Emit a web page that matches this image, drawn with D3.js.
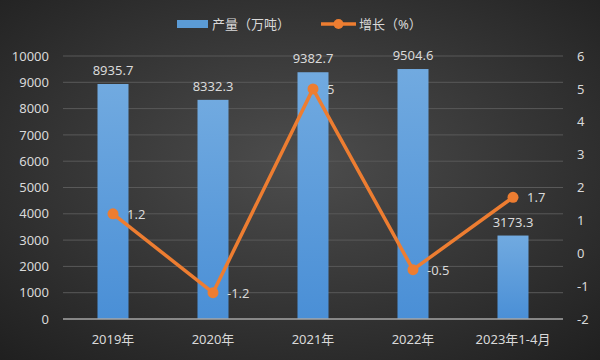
<!DOCTYPE html>
<html><head><meta charset="utf-8">
<script src="https://cdn.jsdelivr.net/npm/d3@7"></script>
<style>html,body{margin:0;padding:0;background:#2a2a2a;}svg{display:block;}</style>
</head><body>
<svg id="c" width="600" height="360"></svg>
<script>
const categories = ["2019年","2020年","2021年","2022年","2023年1-4月"];
const production = [8935.7, 8332.3, 9382.7, 9504.6, 3173.3];
const growth = [1.2, -1.2, 5, -0.5, 1.7];
const leftTicks = [0,1000,2000,3000,4000,5000,6000,7000,8000,9000,10000];
const rightTicks = [-2,-1,0,1,2,3,4,5,6];

const W = 600, H = 360;
const m = {left:63, right:37, top:56, bottom:41};
const svg = d3.select("#c");
const defs = svg.append("defs");
const bg = defs.append("radialGradient").attr("id","bg").attr("cx","50%").attr("cy","45%").attr("r","75%");
bg.append("stop").attr("offset","0%").attr("stop-color","#4d4d4d");
bg.append("stop").attr("offset","100%").attr("stop-color","#1f1f1f");
const bar = defs.append("linearGradient").attr("id","bar").attr("x1","0").attr("y1","0").attr("x2","0").attr("y2","1");
bar.append("stop").attr("offset","0%").attr("stop-color","#71aae0");
bar.append("stop").attr("offset","100%").attr("stop-color","#4a8fd6");

svg.append("rect").attr("width",W).attr("height",H).attr("fill","url(#bg)");

const x = d3.scaleBand().domain(categories).range([m.left, W-m.right]);
const yL = d3.scaleLinear().domain([0,10000]).range([H-m.bottom, m.top]);
const yR = d3.scaleLinear().domain([-2,6]).range([H-m.bottom, m.top]);
const font = "'Noto Sans','Noto Sans CJK SC',sans-serif";
const txt = "#d9d9d9";
const fmt = d => String(d);

// gridlines
svg.append("g").selectAll("line").data(leftTicks.slice(1)).join("line")
  .attr("x1",m.left).attr("x2",W-m.right)
  .attr("y1",d=>yL(d)).attr("y2",d=>yL(d))
  .attr("stroke","#595959").attr("stroke-width",1);

// left axis
const gL = svg.append("g").attr("transform",`translate(${m.left},0)`)
  .call(d3.axisLeft(yL).tickValues(leftTicks).tickFormat(fmt).tickSize(0).tickPadding(14));
gL.select(".domain").remove();
gL.selectAll("text").attr("fill",txt).attr("font-size",13).attr("font-family",font);

// right axis
const gR = svg.append("g").attr("transform",`translate(${W-m.right},0)`)
  .call(d3.axisRight(yR).tickValues(rightTicks).tickFormat(fmt).tickSize(0).tickPadding(14));
gR.select(".domain").remove();
gR.selectAll("text").attr("fill",txt).attr("font-size",13).attr("font-family",font);

// bars
const bw = 31;
svg.append("g").selectAll("rect").data(production).join("rect")
  .attr("x",(d,i)=>x(categories[i])+x.bandwidth()/2-bw/2)
  .attr("width",bw)
  .attr("y",d=>yL(d)).attr("height",d=>yL(0)-yL(d))
  .attr("fill","url(#bar)");

// bar labels
svg.append("g").selectAll("text").data(production).join("text")
  .attr("x",(d,i)=>x(categories[i])+x.bandwidth()/2)
  .attr("y",d=>yL(d)-9)
  .attr("text-anchor","middle").attr("fill",txt).attr("font-size",13).attr("font-family",font)
  .text(d=>d.toFixed(1));

// x axis
svg.append("line").attr("x1",m.left).attr("x2",W-m.right)
  .attr("y1",yL(0)).attr("y2",yL(0)).attr("stroke","#a6a6a6").attr("stroke-width",1.5);
svg.append("g").selectAll("text").data(categories).join("text")
  .attr("x",d=>x(d)+x.bandwidth()/2).attr("y",yL(0)+25)
  .attr("text-anchor","middle").attr("fill",txt).attr("font-size",13).attr("font-family",font)
  .text(d=>d);

// line
const line = d3.line().x((d,i)=>x(categories[i])+x.bandwidth()/2).y(d=>yR(d));
svg.append("path").datum(growth).attr("d",line).attr("fill","none")
  .attr("stroke","#ed7d31").attr("stroke-width",3.5).attr("stroke-linejoin","round");
svg.append("g").selectAll("circle").data(growth).join("circle")
  .attr("cx",(d,i)=>x(categories[i])+x.bandwidth()/2).attr("cy",d=>yR(d)).attr("r",5.5)
  .attr("fill","#ed7d31");
svg.append("g").selectAll("text").data(growth).join("text")
  .attr("x",(d,i)=>x(categories[i])+x.bandwidth()/2+14)
  .attr("y",d=>yR(d)+5)
  .attr("fill",txt).attr("font-size",13).attr("font-family",font)
  .text(d=>String(d));

// legend
const lg = svg.append("g").attr("font-family",font).attr("font-size",13).attr("fill",txt);
lg.append("rect").attr("x",177).attr("y",20).attr("width",31).attr("height",8).attr("fill","#5b9bd5");
lg.append("text").attr("x",212).attr("y",29).text("产量（万吨）");
lg.append("line").attr("x1",321).attr("x2",356).attr("y1",24).attr("y2",24).attr("stroke","#ed7d31").attr("stroke-width",3.5);
lg.append("circle").attr("cx",338.5).attr("cy",24).attr("r",5).attr("fill","#ed7d31");
lg.append("text").attr("x",359).attr("y",29).text("增长（%）");
</script>
</body></html>
